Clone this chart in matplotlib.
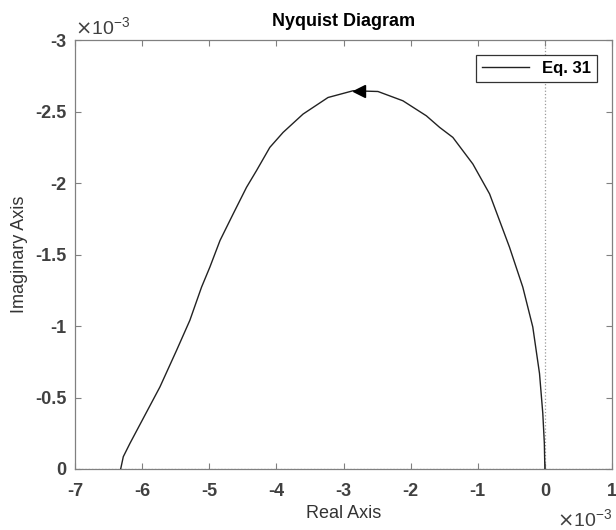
import matplotlib.pyplot as plt

plt.rcParams['font.family'] = ['Liberation Sans', 'DejaVu Sans']
plt.rcParams['axes.unicode_minus'] = False

# Nyquist curve, values in units of 1e-3
real_part = [-6.32, -6.281, -6.182, -5.984, -5.735, -5.487, -5.289, -5.115, -4.991,
             -4.84, -4.644, -4.445, -4.296, -4.098, -3.900, -3.603, -3.231, -2.859,
             -2.487, -2.115, -1.766, -1.568, -1.371, -1.073, -0.824, -0.527, -0.329,
             -0.180, -0.080, -0.031, -0.008, 0.0]
imag_part = [0.0, -0.086, -0.179, -0.354, -0.574, -0.830, -1.040, -1.272, -1.412,
             -1.598, -1.784, -1.970, -2.087, -2.249, -2.354, -2.482, -2.598, -2.645,
             -2.640, -2.575, -2.470, -2.389, -2.319, -2.133, -1.924, -1.551, -1.272,
             -0.993, -0.668, -0.389, -0.18, 0.0]
arrow_pos = (-2.774, -2.642)

xticks = [-7, -6, -5, -4, -3, -2, -1, 0, 1]
yticks = [-3, -2.5, -2, -1.5, -1, -0.5, 0]
ytick_labels = ['-3', '-2.5', '-2', '-1.5', '-1', '-0.5', '0']

fig = plt.figure(figsize=(6.16, 5.30), dpi=100)
ax = fig.add_axes([0.1218, 0.1151, 0.8717, 0.8094])

ax.axvline(0, color='#999999', linestyle=':', linewidth=0.9, zorder=1)
ax.axhline(0, color='#999999', linestyle=':', linewidth=0.9, zorder=1)

ax.plot(real_part, imag_part, color='#222222', linewidth=1.0, label='Eq. 31', zorder=3)
ax.plot([arrow_pos[0]], [arrow_pos[1]], marker='<', markersize=8, color='black', zorder=4)

ax.set_xlim(-7, 1)
ax.set_ylim(0, -3)
ax.set_xticks(xticks)
ax.set_xticklabels([str(t) for t in xticks])
ax.set_yticks(yticks)
ax.set_yticklabels(ytick_labels)

for s in ax.spines.values():
    s.set_color('#808080')
    s.set_linewidth(0.9)
ax.tick_params(direction='in', top=True, right=True, length=4, width=0.8,
               color='#808080', labelcolor='#404040', labelsize=13)
ax.tick_params(axis='x', pad=10)
ax.tick_params(axis='y', pad=6)
for lab in ax.get_xticklabels() + ax.get_yticklabels():
    lab.set_fontweight('bold')

ax.set_title('Nyquist Diagram', fontsize=13, fontweight='bold', pad=10)
ax.set_xlabel('Real Axis', fontsize=13, color='#333333', labelpad=4)
ax.set_ylabel('Imaginary Axis', fontsize=13, color='#333333', labelpad=5)

ax.text(0.0, 1.005, r'$\times\mathregular{10^{-3}}$', transform=ax.transAxes,
        ha='left', va='bottom', fontsize=14, color='#404040')
ax.text(1.0, -0.092, r'$\times\mathregular{10^{-3}}$', transform=ax.transAxes,
        ha='right', va='top', fontsize=14, color='#404040')

leg = ax.legend(loc='upper right', fancybox=False, edgecolor='#333333',
                framealpha=1, borderaxespad=0.9, borderpad=0.35, handlelength=2.8,
                prop={'weight': 'bold', 'size': 12})
leg.get_frame().set_linewidth(0.9)

fig.savefig('out.png', dpi=100)
